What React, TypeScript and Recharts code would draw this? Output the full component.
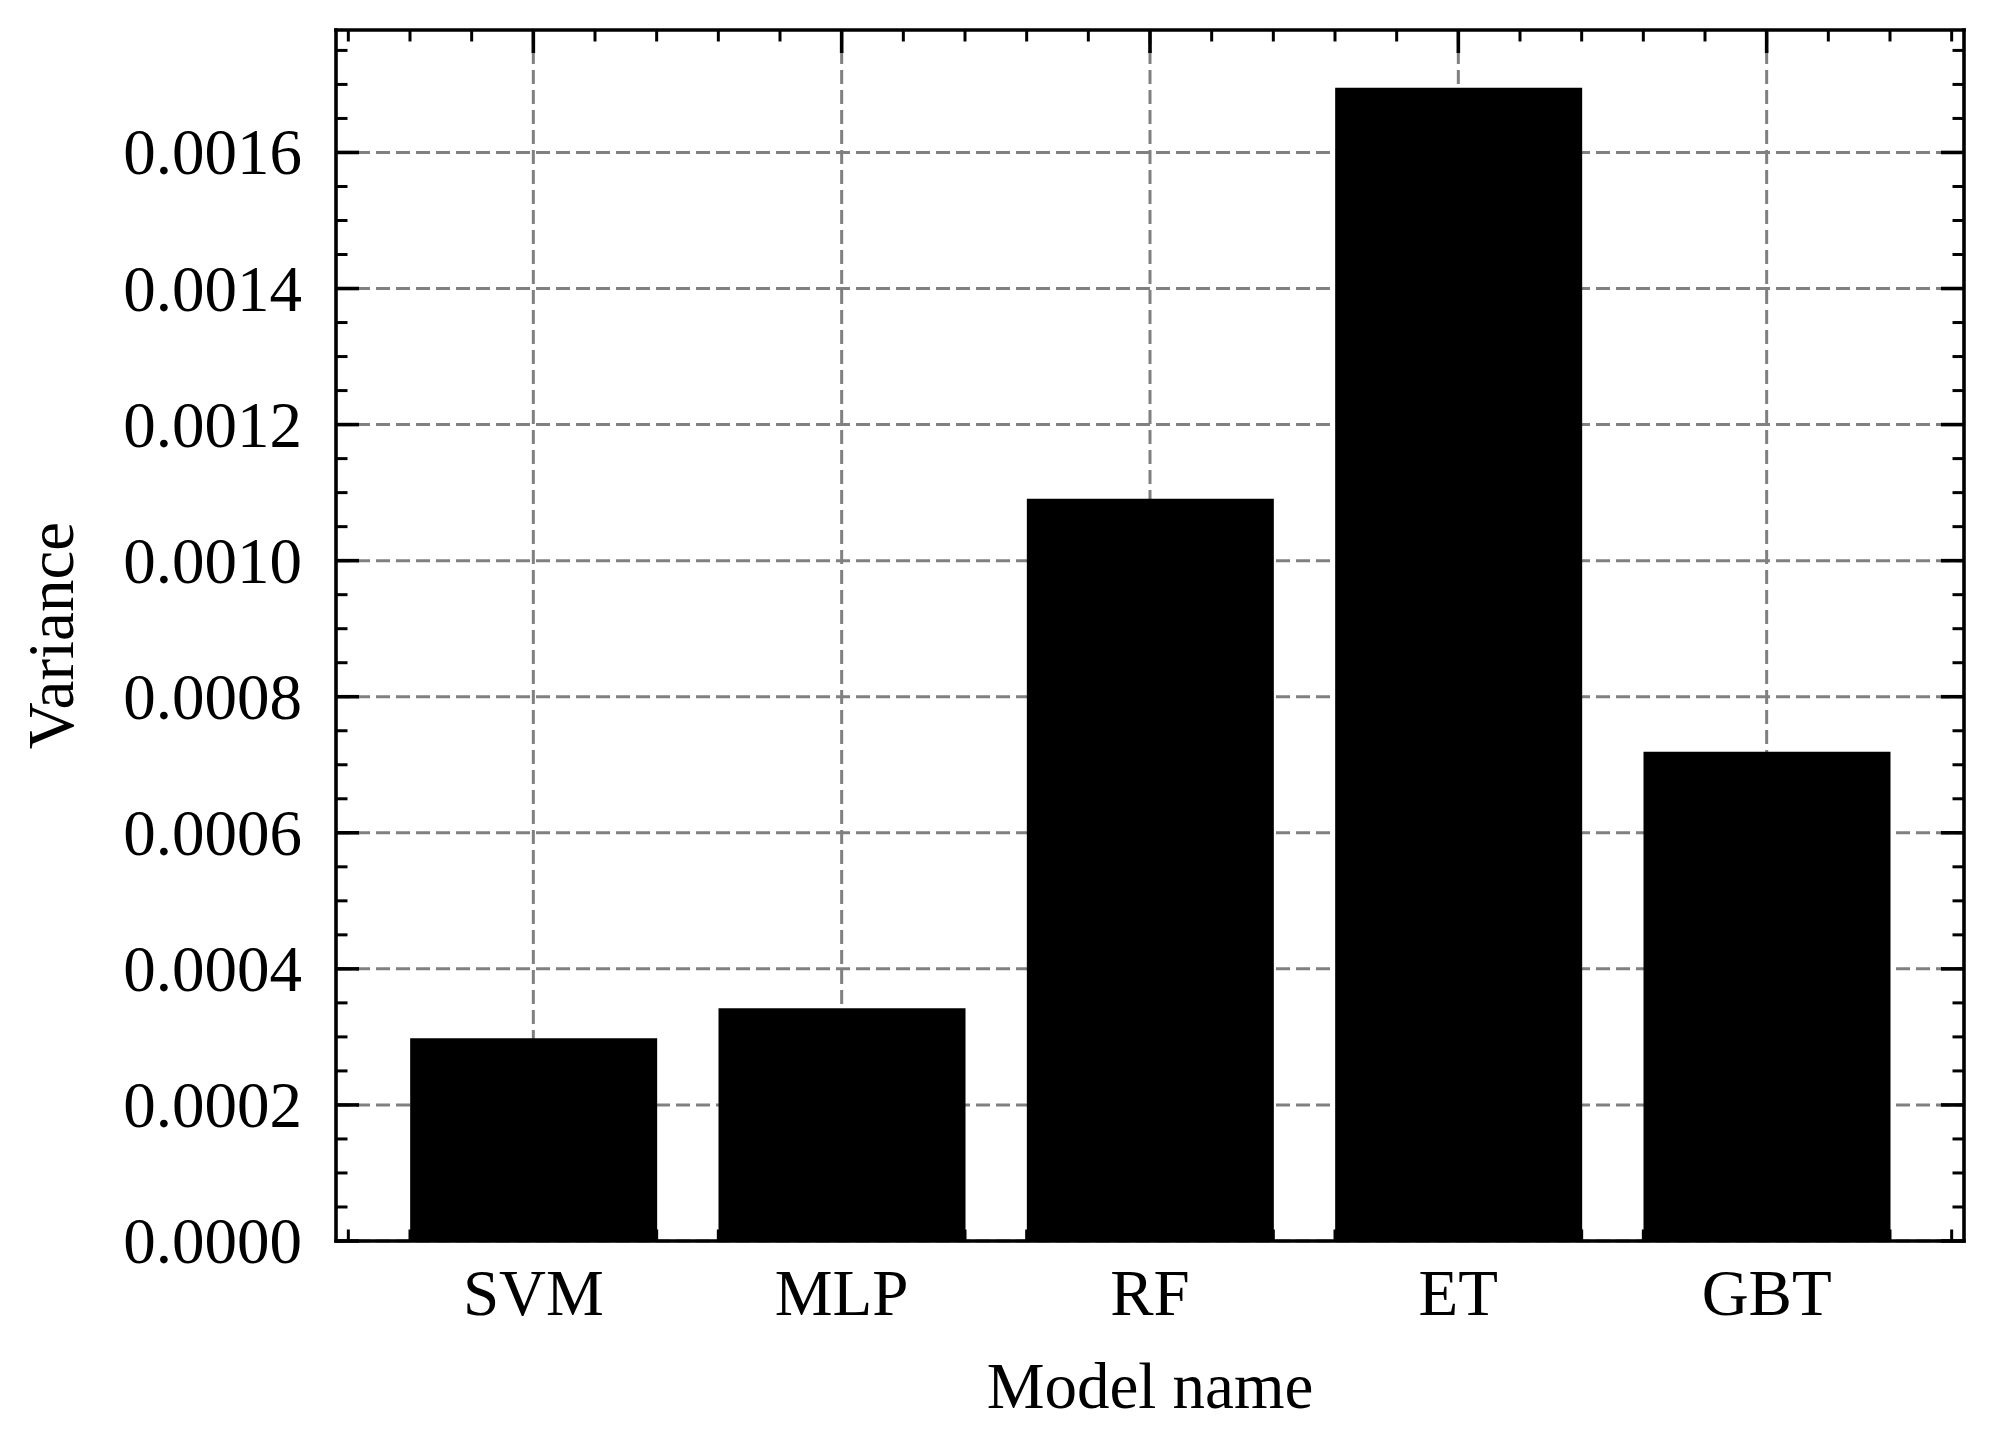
import React from 'react';
import { BarChart, Bar, XAxis, YAxis, CartesianGrid, Label } from 'recharts';

// ---- data ----
const categories = ['SVM', 'MLP', 'RF', 'ET', 'GBT'];
const variances = [0.000298, 0.000342, 0.001091, 0.001695, 0.000719];

// ---- ticks ----
const xMajorTicks = [0, 1, 2, 3, 4];
const xMinorTicks = [
  -0.6, -0.4, -0.2, 0.2, 0.4, 0.6, 0.8, 1.2, 1.4, 1.6, 1.8, 2.2, 2.4, 2.6, 2.8,
  3.2, 3.4, 3.6, 3.8, 4.2, 4.4, 4.6,
];
const yMajorTicks = [0, 0.0002, 0.0004, 0.0006, 0.0008, 0.001, 0.0012, 0.0014, 0.0016];
const yTickLabels = ['0.0000', '0.0002', '0.0004', '0.0006', '0.0008', '0.0010', '0.0012', '0.0014', '0.0016'];
const yMinorTicks = [
  0.00005, 0.0001, 0.00015, 0.00025, 0.0003, 0.00035, 0.00045, 0.0005, 0.00055,
  0.00065, 0.0007, 0.00075, 0.00085, 0.0009, 0.00095, 0.00105, 0.0011, 0.00115,
  0.00125, 0.0013, 0.00135, 0.00145, 0.0015, 0.00155, 0.00165, 0.0017, 0.00175,
];
const xDomain = [-0.64, 4.64];
const yDomain = [0, 0.00178];

const data = categories.map((name, i) => ({ idx: i, name, variance: variances[i] }));
const xAll = [...xMajorTicks, ...xMinorTicks].sort((a, b) => a - b);
const yAll = [...yMajorTicks, ...yMinorTicks].sort((a, b) => a - b);

const FONT = '"Liberation Serif", "Times New Roman", Times, serif';
const FS = 65;
const MAJOR_LEN = 23;
const MINOR_LEN = 11.5;
const MAJOR_W = 3.6;
const MINOR_W = 3;
const spine = { stroke: '#000', strokeWidth: 3.6, strokeLinecap: 'square' as const };

const isXMajor = (v: number) => xMajorTicks.indexOf(v) >= 0;
const isYMajor = (v: number) => yMajorTicks.indexOf(v) >= 0;

function BottomTick(props: any) {
  const { x, y, payload } = props;
  const v = payload.value;
  const major = isXMajor(v);
  return (
    <g>
      <line x1={x} x2={x} y1={y} y2={y - (major ? MAJOR_LEN : MINOR_LEN)} stroke="#000" strokeWidth={major ? MAJOR_W : MINOR_W} />
      {major && (
        <text x={x} y={y + 74} textAnchor="middle" fontFamily={FONT} fontSize={FS} fill="#000">
          {categories[xMajorTicks.indexOf(v)]}
        </text>
      )}
    </g>
  );
}

function TopTick(props: any) {
  const { x, y, payload } = props;
  const major = isXMajor(payload.value);
  return (
    <line x1={x} x2={x} y1={y} y2={y + (major ? MAJOR_LEN : MINOR_LEN)} stroke="#000" strokeWidth={major ? MAJOR_W : MINOR_W} />
  );
}

function LeftTick(props: any) {
  const { x, y, payload } = props;
  const v = payload.value;
  const major = isYMajor(v);
  return (
    <g>
      <line x1={x} x2={x + (major ? MAJOR_LEN : MINOR_LEN)} y1={y} y2={y} stroke="#000" strokeWidth={major ? MAJOR_W : MINOR_W} />
      {major && (
        <text x={x - 34} y={y + 22} textAnchor="end" fontFamily={FONT} fontSize={FS} fill="#000">
          {yTickLabels[yMajorTicks.indexOf(v)]}
        </text>
      )}
    </g>
  );
}

function RightTick(props: any) {
  const { x, y, payload } = props;
  const major = isYMajor(payload.value);
  return (
    <line x1={x} x2={x - (major ? MAJOR_LEN : MINOR_LEN)} y1={y} y2={y} stroke="#000" strokeWidth={major ? MAJOR_W : MINOR_W} />
  );
}

function XLabel(props: any) {
  const vb = props.viewBox || { x: 328, y: 1233, width: 1628, height: 205 };
  return (
    <text x={vb.x + vb.width / 2} y={vb.y + 167} textAnchor="middle" fontFamily={FONT} fontSize={FS} fill="#000">
      Model name
    </text>
  );
}

function YLabel(props: any) {
  const vb = props.viewBox || { x: 0, y: 22, width: 328, height: 1211 };
  const cx = vb.x + 65;
  const cy = vb.y + vb.height / 2;
  return (
    <text x={cx} y={cy} transform={`rotate(-90, ${cx}, ${cy})`} textAnchor="middle" fontFamily={FONT} fontSize={FS} fill="#000">
      Variance
    </text>
  );
}

export default function App() {
  return (
    <div style={{ width: 1977, height: 1438, background: '#fff' }}>
      <BarChart width={1977} height={1438} data={data} margin={{ top: 21, right: 20, bottom: 0, left: 0 }}>
        <CartesianGrid
          horizontalValues={yMajorTicks}
          verticalValues={xMajorTicks}
          stroke="#808080"
          strokeWidth={3}
          strokeDasharray="14 6"
        />
        <Bar dataKey="variance" fill="#000" barSize={247} isAnimationActive={false} />
        <XAxis
          dataKey="idx"
          type="number"
          domain={xDomain}
          allowDataOverflow
          ticks={xAll}
          interval={0}
          height={205}
          tickSize={0}
          tickMargin={0}
          tick={<BottomTick />}
          tickLine={false}
          axisLine={spine}
        >
          <Label content={<XLabel />} />
        </XAxis>
        <XAxis
          xAxisId="top"
          dataKey="idx"
          orientation="top"
          type="number"
          domain={xDomain}
          allowDataOverflow
          ticks={xAll}
          interval={0}
          height={1}
          tickSize={0}
          tickMargin={0}
          tick={<TopTick />}
          tickLine={false}
          axisLine={spine}
        />
        <YAxis
          type="number"
          domain={yDomain}
          allowDataOverflow
          ticks={yAll}
          interval={0}
          width={328}
          tickSize={0}
          tickMargin={0}
          tick={<LeftTick />}
          tickLine={false}
          axisLine={spine}
        >
          <Label content={<YLabel />} />
        </YAxis>
        <YAxis
          yAxisId="right"
          orientation="right"
          type="number"
          domain={yDomain}
          allowDataOverflow
          ticks={yAll}
          interval={0}
          width={1}
          tickSize={0}
          tickMargin={0}
          tick={<RightTick />}
          tickLine={false}
          axisLine={spine}
        />
      </BarChart>
    </div>
  );
}
